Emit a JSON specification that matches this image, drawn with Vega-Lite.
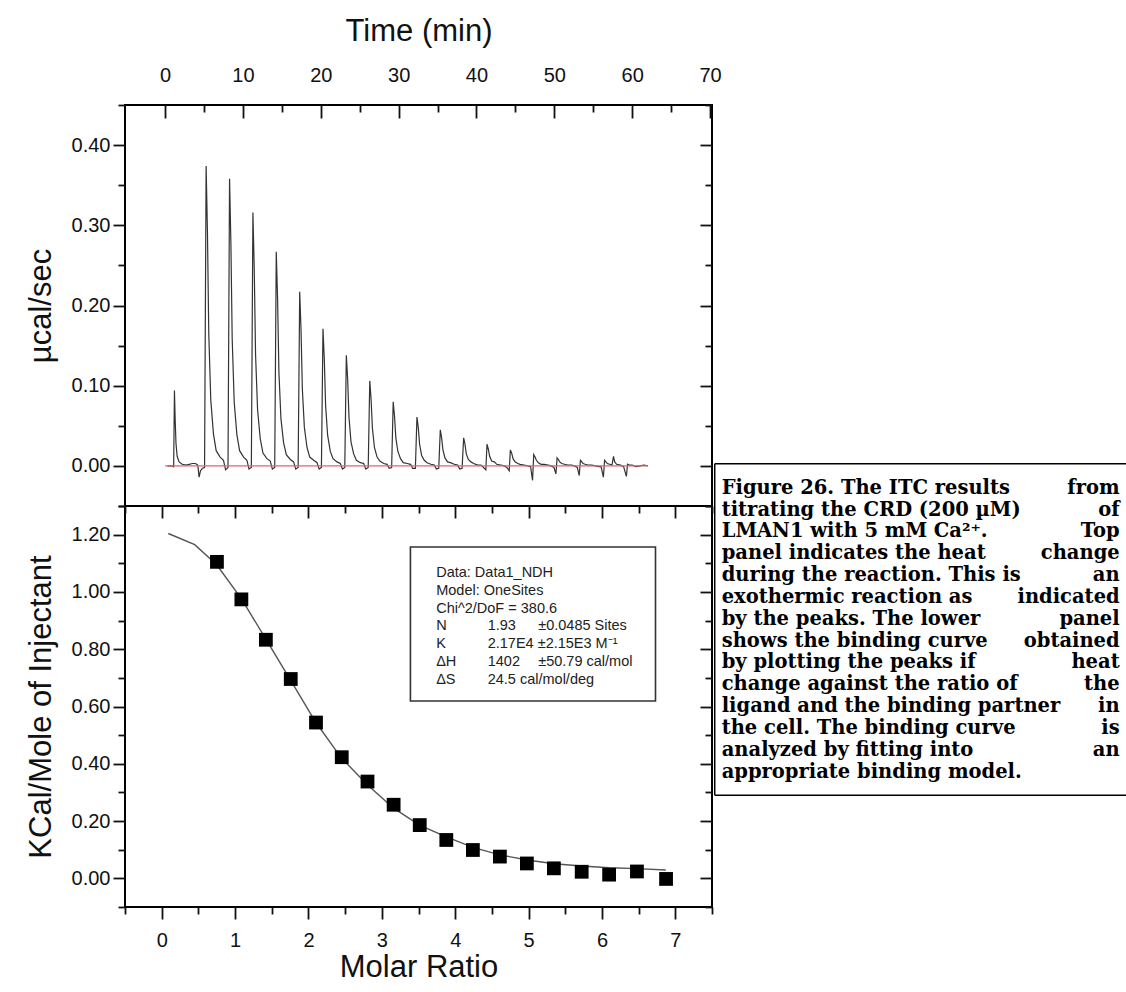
{
  "$schema": "https://vega.github.io/schema/vega-lite/v6.json",
  "background": "white",
  "padding": {"left": 24, "top": 14, "right": 0, "bottom": 0},
  "autosize": {"type": "pad"},
  "spacing": 0,
  "bounds": "flush",
  "config": {
    "view": {"stroke": "black", "strokeWidth": 2},
    "axis": {"domain": false, "grid": false, "labelFont": "Liberation Sans", "titleFont": "Liberation Sans", "labelFontSize": 20, "titleFontSize": 31, "titleFontWeight": "normal", "labelColor": "#111", "titleColor": "#111", "tickColor": "#111", "tickWidth": 1.8, "labelFlush": false, "labelOverlap": false, "labelBound": false}
  },
  "datasets": {
    "thermo": [
      {"s":"trace","t":0.3,"v":0.000},{"s":"trace","t":0.9,"v":0.000},{"s":"trace","t":1.1,"v":-0.001},{"s":"trace","t":1.2,"v":0.094},{"s":"trace","t":1.3,"v":0.056},{"s":"trace","t":1.4,"v":0.028},{"s":"trace","t":1.55,"v":0.012},{"s":"trace","t":1.8,"v":0.005},{"s":"trace","t":2.2,"v":0.002},{"s":"trace","t":2.7,"v":0.001},{"s":"trace","t":3.1,"v":0.002},{"s":"trace","t":3.5,"v":0.003},{"s":"trace","t":3.9,"v":0.003},{"s":"trace","t":4.2,"v":0.001},{"s":"trace","t":4.37,"v":-0.014},{"s":"trace","t":4.55,"v":-0.006},{"s":"trace","t":4.8,"v":-0.003},{"s":"trace","t":5.07,"v":-0.002},
      {"s":"trace","t":5.27,"v":0.374},{"s":"trace","t":5.44,"v":0.292},{"s":"trace","t":5.61,"v":0.165},{"s":"trace","t":5.87,"v":0.082},{"s":"trace","t":6.21,"v":0.040},{"s":"trace","t":6.56,"v":0.019},{"s":"trace","t":7.07,"v":0.011},{"s":"trace","t":7.50,"v":0.007},{"s":"trace","t":7.77,"v":-0.005},{"s":"trace","t":8.08,"v":-0.002},
      {"s":"trace","t":8.28,"v":0.358},{"s":"trace","t":8.45,"v":0.279},{"s":"trace","t":8.62,"v":0.158},{"s":"trace","t":8.88,"v":0.079},{"s":"trace","t":9.22,"v":0.039},{"s":"trace","t":9.57,"v":0.019},{"s":"trace","t":10.08,"v":0.011},{"s":"trace","t":10.51,"v":0.007},{"s":"trace","t":10.78,"v":-0.004},{"s":"trace","t":11.08,"v":-0.002},
      {"s":"trace","t":11.28,"v":0.316},{"s":"trace","t":11.45,"v":0.246},{"s":"trace","t":11.62,"v":0.139},{"s":"trace","t":11.88,"v":0.070},{"s":"trace","t":12.22,"v":0.034},{"s":"trace","t":12.57,"v":0.016},{"s":"trace","t":13.08,"v":0.009},{"s":"trace","t":13.51,"v":0.006},{"s":"trace","t":13.78,"v":-0.004},{"s":"trace","t":14.08,"v":-0.002},
      {"s":"trace","t":14.28,"v":0.267},{"s":"trace","t":14.45,"v":0.208},{"s":"trace","t":14.62,"v":0.117},{"s":"trace","t":14.88,"v":0.059},{"s":"trace","t":15.22,"v":0.029},{"s":"trace","t":15.57,"v":0.014},{"s":"trace","t":16.08,"v":0.008},{"s":"trace","t":16.51,"v":0.005},{"s":"trace","t":16.78,"v":-0.004},{"s":"trace","t":17.09,"v":-0.002},
      {"s":"trace","t":17.29,"v":0.217},{"s":"trace","t":17.46,"v":0.170},{"s":"trace","t":17.63,"v":0.096},{"s":"trace","t":17.89,"v":0.048},{"s":"trace","t":18.23,"v":0.023},{"s":"trace","t":18.58,"v":0.011},{"s":"trace","t":19.09,"v":0.007},{"s":"trace","t":19.52,"v":0.004},{"s":"trace","t":19.79,"v":-0.004},{"s":"trace","t":20.08,"v":-0.002},
      {"s":"trace","t":20.28,"v":0.171},{"s":"trace","t":20.45,"v":0.133},{"s":"trace","t":20.62,"v":0.075},{"s":"trace","t":20.88,"v":0.038},{"s":"trace","t":21.22,"v":0.018},{"s":"trace","t":21.57,"v":0.009},{"s":"trace","t":22.08,"v":0.005},{"s":"trace","t":22.51,"v":0.003},{"s":"trace","t":22.78,"v":-0.004},{"s":"trace","t":23.08,"v":-0.002},
      {"s":"trace","t":23.28,"v":0.138},{"s":"trace","t":23.45,"v":0.108},{"s":"trace","t":23.62,"v":0.061},{"s":"trace","t":23.88,"v":0.030},{"s":"trace","t":24.22,"v":0.015},{"s":"trace","t":24.57,"v":0.007},{"s":"trace","t":25.08,"v":0.004},{"s":"trace","t":25.51,"v":0.003},{"s":"trace","t":25.78,"v":-0.004},{"s":"trace","t":26.09,"v":-0.002},
      {"s":"trace","t":26.29,"v":0.106},{"s":"trace","t":26.46,"v":0.083},{"s":"trace","t":26.63,"v":0.047},{"s":"trace","t":26.89,"v":0.023},{"s":"trace","t":27.23,"v":0.011},{"s":"trace","t":27.58,"v":0.006},{"s":"trace","t":28.09,"v":0.003},{"s":"trace","t":28.52,"v":0.002},{"s":"trace","t":28.79,"v":-0.003},{"s":"trace","t":29.10,"v":-0.002},
      {"s":"trace","t":29.30,"v":0.080},{"s":"trace","t":29.47,"v":0.062},{"s":"trace","t":29.64,"v":0.035},{"s":"trace","t":29.90,"v":0.018},{"s":"trace","t":30.24,"v":0.009},{"s":"trace","t":30.59,"v":0.004},{"s":"trace","t":31.10,"v":0.003},{"s":"trace","t":31.53,"v":0.002},{"s":"trace","t":31.80,"v":-0.003},{"s":"trace","t":32.15,"v":-0.003},
      {"s":"trace","t":32.35,"v":0.061},{"s":"trace","t":32.52,"v":0.048},{"s":"trace","t":32.69,"v":0.027},{"s":"trace","t":32.95,"v":0.013},{"s":"trace","t":33.29,"v":0.007},{"s":"trace","t":33.64,"v":0.004},{"s":"trace","t":34.15,"v":0.002},{"s":"trace","t":34.58,"v":0.001},{"s":"trace","t":34.85,"v":-0.004},{"s":"trace","t":35.15,"v":-0.003},
      {"s":"trace","t":35.35,"v":0.045},{"s":"trace","t":35.52,"v":0.035},{"s":"trace","t":35.69,"v":0.020},{"s":"trace","t":35.95,"v":0.010},{"s":"trace","t":36.29,"v":0.005},{"s":"trace","t":36.64,"v":0.004},{"s":"trace","t":37.15,"v":0.002},{"s":"trace","t":37.58,"v":0.001},{"s":"trace","t":37.85,"v":-0.004},{"s":"trace","t":38.15,"v":-0.003},
      {"s":"trace","t":38.35,"v":0.035},{"s":"trace","t":38.52,"v":0.027},{"s":"trace","t":38.69,"v":0.015},{"s":"trace","t":38.95,"v":0.008},{"s":"trace","t":39.29,"v":0.005},{"s":"trace","t":39.64,"v":0.003},{"s":"trace","t":40.15,"v":0.001},{"s":"trace","t":40.58,"v":0.001},{"s":"trace","t":40.9,"v":-0.002},{"s":"trace","t":41.2,"v":-0.005},
      {"s":"trace","t":41.35,"v":0.027},{"s":"trace","t":41.52,"v":0.021},{"s":"trace","t":41.69,"v":0.012},{"s":"trace","t":41.95,"v":0.006},{"s":"trace","t":42.3,"v":0.005},{"s":"trace","t":42.6,"v":0.002},{"s":"trace","t":43.1,"v":0.001},{"s":"trace","t":43.6,"v":0.000},{"s":"trace","t":43.9,"v":-0.002},{"s":"trace","t":44.2,"v":-0.006},
      {"s":"trace","t":44.35,"v":0.020},{"s":"trace","t":44.52,"v":0.016},{"s":"trace","t":44.69,"v":0.009},{"s":"trace","t":44.95,"v":0.005},{"s":"trace","t":45.3,"v":0.003},{"s":"trace","t":45.6,"v":0.002},{"s":"trace","t":46.1,"v":0.001},{"s":"trace","t":46.6,"v":0.000},{"s":"trace","t":46.95,"v":-0.001},{"s":"trace","t":47.2,"v":-0.018},
      {"s":"trace","t":47.35,"v":0.014},{"s":"trace","t":47.52,"v":0.011},{"s":"trace","t":47.69,"v":0.007},{"s":"trace","t":47.95,"v":0.004},{"s":"trace","t":48.3,"v":0.002},{"s":"trace","t":48.7,"v":0.002},{"s":"trace","t":49.2,"v":0.001},{"s":"trace","t":49.6,"v":0.000},{"s":"trace","t":49.95,"v":-0.002},{"s":"trace","t":50.2,"v":-0.010},
      {"s":"trace","t":50.35,"v":0.010},{"s":"trace","t":50.52,"v":0.008},{"s":"trace","t":50.69,"v":0.005},{"s":"trace","t":50.95,"v":0.003},{"s":"trace","t":51.3,"v":0.002},{"s":"trace","t":51.7,"v":0.001},{"s":"trace","t":52.2,"v":0.001},{"s":"trace","t":52.6,"v":0.000},{"s":"trace","t":52.95,"v":-0.002},{"s":"trace","t":53.2,"v":-0.012},
      {"s":"trace","t":53.35,"v":0.007},{"s":"trace","t":53.52,"v":0.005},{"s":"trace","t":53.69,"v":0.003},{"s":"trace","t":53.95,"v":0.002},{"s":"trace","t":54.3,"v":0.001},{"s":"trace","t":54.8,"v":0.001},{"s":"trace","t":55.3,"v":0.000},{"s":"trace","t":55.7,"v":-0.001},{"s":"trace","t":56.0,"v":-0.001},{"s":"trace","t":56.3,"v":-0.014},
      {"s":"trace","t":56.45,"v":0.007},{"s":"trace","t":56.62,"v":0.005},{"s":"trace","t":56.8,"v":0.003},{"s":"trace","t":57.1,"v":0.002},{"s":"trace","t":57.4,"v":0.001},{"s":"trace","t":57.6,"v":0.012},{"s":"trace","t":57.75,"v":0.005},{"s":"trace","t":58.0,"v":0.002},{"s":"trace","t":58.5,"v":0.001},{"s":"trace","t":58.9,"v":-0.001},{"s":"trace","t":59.25,"v":-0.013},
      {"s":"trace","t":59.4,"v":0.002},{"s":"trace","t":59.6,"v":0.001},{"s":"trace","t":60.0,"v":0.001},{"s":"trace","t":60.5,"v":-0.001},{"s":"trace","t":61.0,"v":0.000},{"s":"trace","t":61.5,"v":0.001},{"s":"trace","t":62.0,"v":0.000},
      {"s":"base","t":0,"v":0},{"s":"base","t":62,"v":0}
    ],
    "itc": [
      {"s":"fit","m":0.09,"k":1.204},{"s":"fit","m":0.45,"k":1.165},{"s":"fit","m":0.75,"k":1.095},{"s":"fit","m":1.09,"k":0.975},{"s":"fit","m":1.42,"k":0.835},{"s":"fit","m":1.76,"k":0.69},{"s":"fit","m":2.10,"k":0.545},{"s":"fit","m":2.45,"k":0.42},{"s":"fit","m":2.81,"k":0.325},{"s":"fit","m":3.16,"k":0.245},{"s":"fit","m":3.52,"k":0.185},{"s":"fit","m":3.88,"k":0.145},{"s":"fit","m":4.24,"k":0.108},{"s":"fit","m":4.61,"k":0.082},{"s":"fit","m":4.98,"k":0.064},{"s":"fit","m":5.35,"k":0.051},{"s":"fit","m":5.72,"k":0.043},{"s":"fit","m":6.10,"k":0.037},{"s":"fit","m":6.48,"k":0.034},{"s":"fit","m":6.87,"k":0.029},
      {"s":"obs","m":0.753,"k":1.105},{"s":"obs","m":1.086,"k":0.974},{"s":"obs","m":1.420,"k":0.833},{"s":"obs","m":1.759,"k":0.696},{"s":"obs","m":2.103,"k":0.544},{"s":"obs","m":2.454,"k":0.423},{"s":"obs","m":2.805,"k":0.338},{"s":"obs","m":3.161,"k":0.257},{"s":"obs","m":3.517,"k":0.186},{"s":"obs","m":3.879,"k":0.134},{"s":"obs","m":4.241,"k":0.099},{"s":"obs","m":4.609,"k":0.076},{"s":"obs","m":4.977,"k":0.052},{"s":"obs","m":5.345,"k":0.035},{"s":"obs","m":5.724,"k":0.023},{"s":"obs","m":6.098,"k":0.013},{"s":"obs","m":6.477,"k":0.024},{"s":"obs","m":6.874,"k":-0.002}
    ]
  },
  "vconcat": [
    {
      "width": 587,
      "height": 401,
      "data": {"name": "thermo"},
      "layer": [
        {
          "transform": [{"filter": "datum.s === 'trace'"}],
          "mark": {"type": "line", "color": "#333333", "strokeWidth": 1.2},
          "encoding": {
            "x": {"field": "t", "type": "quantitative", "scale": {"domain": [-5.15, 70.25], "nice": false, "zero": false},
              "axis": {"orient": "top", "title": "Time (min)", "values": [0,5,10,15,20,25,30,35,40,45,50,55,60,65,70], "labelExpr": "datum.value % 10 === 0 ? format(datum.value, 'd') : ''", "tickSize": {"condition": {"test": "datum.value % 10 === 0", "value": -13}, "value": -7}, "labelPadding": 33, "titlePadding": 12}},
            "y": {"field": "v", "type": "quantitative", "scale": {"domain": [-0.05, 0.45], "nice": false, "zero": false},
              "axis": {"orient": "left", "title": "µcal/sec", "values": [-0.05,0,0.05,0.1,0.15,0.2,0.25,0.3,0.35,0.4,0.45], "labelExpr": "(abs(datum.value*10-round(datum.value*10))<0.001 && datum.value>-0.01 && datum.value<0.41) ? format(datum.value,'.2f') : ''", "tickSize": {"condition": {"test": "abs(datum.value*10-round(datum.value*10))<0.001", "value": 12}, "value": 7}, "labelPadding": 3, "titlePadding": 14}}
          }
        },
        {
          "transform": [{"filter": "datum.s === 'base'"}],
          "mark": {"type": "line", "color": "#e06666", "strokeWidth": 1.3},
          "encoding": {
            "x": {"field": "t", "type": "quantitative", "scale": {"domain": [-5.15, 70.25], "nice": false, "zero": false},
              "axis": {"orient": "top", "title": "Time (min)", "values": [0,5,10,15,20,25,30,35,40,45,50,55,60,65,70], "labelExpr": "datum.value % 10 === 0 ? format(datum.value, 'd') : ''", "tickSize": {"condition": {"test": "datum.value % 10 === 0", "value": -13}, "value": -7}, "labelPadding": 33, "titlePadding": 12}},
            "y": {"field": "v", "type": "quantitative", "scale": {"domain": [-0.05, 0.45], "nice": false, "zero": false},
              "axis": {"orient": "right", "title": null, "labels": false, "values": [-0.05,0,0.05,0.1,0.15,0.2,0.25,0.3,0.35,0.4,0.45], "tickSize": {"condition": {"test": "abs(datum.value*10-round(datum.value*10))<0.001", "value": -12}, "value": -7}}}
          }
        }
      ],
      "resolve": {"axis": {"y": "independent"}}
    },
    {
      "width": 587,
      "height": 401,
      "data": {"name": "itc"},
      "layer": [
        {
          "transform": [{"filter": "datum.s === 'fit'"}],
          "mark": {"type": "line", "color": "#555555", "strokeWidth": 1.4},
          "encoding": {
            "x": {"field": "m", "type": "quantitative", "scale": {"domain": [-0.5, 7.5], "nice": false, "zero": false},
              "axis": {"orient": "bottom", "title": "Molar Ratio", "values": [-0.5,0,0.5,1,1.5,2,2.5,3,3.5,4,4.5,5,5.5,6,6.5,7,7.5], "labelExpr": "datum.value % 1 === 0 ? format(datum.value, 'd') : ''", "tickSize": {"condition": {"test": "datum.value % 1 === 0", "value": 12}, "value": 7}, "labelPadding": 11, "titlePadding": 2}},
            "y": {"field": "k", "type": "quantitative", "scale": {"domain": [-0.1, 1.3], "nice": false, "zero": false},
              "axis": {"orient": "left", "title": "KCal/Mole of Injectant", "values": [-0.1,0,0.1,0.2,0.3,0.4,0.5,0.6,0.7,0.8,0.9,1,1.1,1.2,1.3], "labelExpr": "(abs(datum.value*5-round(datum.value*5))<0.001 && datum.value>-0.01 && datum.value<1.21) ? format(datum.value,'.2f') : ''", "tickSize": {"condition": {"test": "abs(datum.value*5-round(datum.value*5))<0.001", "value": 12}, "value": 7}, "labelPadding": 3, "titlePadding": 14}}
          }
        },
        {
          "transform": [{"filter": "datum.s === 'obs'"}],
          "mark": {"type": "point", "shape": "square", "filled": true, "color": "black", "size": 190, "opacity": 1},
          "encoding": {
            "x": {"field": "m", "type": "quantitative", "scale": {"domain": [-0.5, 7.5], "nice": false, "zero": false},
              "axis": {"orient": "top", "title": null, "labels": false, "values": [-0.5,0,0.5,1,1.5,2,2.5,3,3.5,4,4.5,5,5.5,6,6.5,7,7.5], "tickSize": {"condition": {"test": "datum.value % 1 === 0", "value": -12}, "value": -7}}},
            "y": {"field": "k", "type": "quantitative", "scale": {"domain": [-0.1, 1.3], "nice": false, "zero": false},
              "axis": {"orient": "right", "title": null, "labels": false, "values": [-0.1,0,0.1,0.2,0.3,0.4,0.5,0.6,0.7,0.8,0.9,1,1.1,1.2,1.3], "tickSize": {"condition": {"test": "abs(datum.value*5-round(datum.value*5))<0.001", "value": -12}, "value": -7}}}
          }
        },
        {
          "data": {"values": [{}]},
          "mark": {"type": "rect", "fill": "white", "fillOpacity": 0, "stroke": "#333333", "strokeWidth": 1.6},
          "encoding": {
            "x": {"datum": 3.39, "type": "quantitative", "scale": {"domain": [-0.5, 7.5], "nice": false, "zero": false}, "axis": null},
            "x2": {"datum": 6.73},
            "y": {"datum": 1.157, "type": "quantitative", "scale": {"domain": [-0.1, 1.3], "nice": false, "zero": false}, "axis": null},
            "y2": {"datum": 0.619}
          }
        },
        {
          "data": {"values": [{}]},
          "mark": {"type": "text", "align": "left", "baseline": "alphabetic", "font": "Liberation Sans", "fontSize": 14.5, "lineHeight": 17.8, "color": "#222222",
            "text": ["Data: Data1_NDH", "Model: OneSites", "Chi^2/DoF = 380.6", "N", "K", "ΔH", "ΔS"]},
          "encoding": {
            "x": {"datum": 3.741, "type": "quantitative", "scale": {"domain": [-0.5, 7.5], "nice": false, "zero": false}, "axis": null},
            "y": {"datum": 1.052, "type": "quantitative", "scale": {"domain": [-0.1, 1.3], "nice": false, "zero": false}, "axis": null}
          }
        },
        {
          "data": {"values": [{}]},
          "mark": {"type": "text", "align": "left", "baseline": "alphabetic", "font": "Liberation Sans", "fontSize": 14.5, "lineHeight": 17.8, "color": "#222222",
            "text": ["1.93", "2.17E4 ±2.15E3 M⁻¹", "1402", "24.5 cal/mol/deg"]},
          "encoding": {
            "x": {"datum": 4.443, "type": "quantitative", "scale": {"domain": [-0.5, 7.5], "nice": false, "zero": false}, "axis": null},
            "y": {"datum": 0.8659, "type": "quantitative", "scale": {"domain": [-0.1, 1.3], "nice": false, "zero": false}, "axis": null}
          }
        },
        {
          "data": {"values": [{}]},
          "mark": {"type": "text", "align": "left", "baseline": "alphabetic", "font": "Liberation Sans", "fontSize": 14.5, "color": "#222222", "text": "±0.0485 Sites"},
          "encoding": {
            "x": {"datum": 5.132, "type": "quantitative", "scale": {"domain": [-0.5, 7.5], "nice": false, "zero": false}, "axis": null},
            "y": {"datum": 0.8659, "type": "quantitative", "scale": {"domain": [-0.1, 1.3], "nice": false, "zero": false}, "axis": null}
          }
        },
        {
          "data": {"values": [{}]},
          "mark": {"type": "text", "align": "left", "baseline": "alphabetic", "font": "Liberation Sans", "fontSize": 14.5, "color": "#222222", "text": "±50.79 cal/mol"},
          "encoding": {
            "x": {"datum": 5.132, "type": "quantitative", "scale": {"domain": [-0.5, 7.5], "nice": false, "zero": false}, "axis": null},
            "y": {"datum": 0.7418, "type": "quantitative", "scale": {"domain": [-0.1, 1.3], "nice": false, "zero": false}, "axis": null}
          }
        },
        {
          "data": {"values": [{}]},
          "mark": {"type": "rule", "color": "black", "strokeWidth": 1.5, "clip": false},
          "encoding": {
            "x": {"datum": 7.537, "type": "quantitative", "scale": {"domain": [-0.5, 7.5], "nice": false, "zero": false}, "axis": null},
            "x2": {"datum": 13.15},
            "y": {"datum": 1.4475, "type": "quantitative", "scale": {"domain": [-0.1, 1.3], "nice": false, "zero": false}, "axis": null}
          }
        },
        {
          "data": {"values": [{}]},
          "mark": {"type": "rule", "color": "black", "strokeWidth": 1.5, "clip": false},
          "encoding": {
            "x": {"datum": 7.537, "type": "quantitative", "scale": {"domain": [-0.5, 7.5], "nice": false, "zero": false}, "axis": null},
            "x2": {"datum": 13.15},
            "y": {"datum": 0.2903, "type": "quantitative", "scale": {"domain": [-0.1, 1.3], "nice": false, "zero": false}, "axis": null}
          }
        },
        {
          "data": {"values": [{}]},
          "mark": {"type": "rule", "color": "black", "strokeWidth": 1.5, "clip": false},
          "encoding": {
            "x": {"datum": 7.537, "type": "quantitative", "scale": {"domain": [-0.5, 7.5], "nice": false, "zero": false}, "axis": null},
            "y": {"datum": 1.4475, "type": "quantitative", "scale": {"domain": [-0.1, 1.3], "nice": false, "zero": false}, "axis": null},
            "y2": {"datum": 0.2903}
          }
        },
        {
          "data": {"values": [{}]},
          "mark": {"type": "text", "align": "left", "baseline": "alphabetic", "font": "DejaVu Serif", "fontWeight": "bold", "fontSize": 19.5, "lineHeight": 21.85, "color": "black",
            "text": ["Figure 26. The ITC results", "titrating the CRD (200 µM)", "LMAN1 with 5 mM Ca²⁺.", "panel indicates the heat", "during the reaction. This is", "exothermic reaction as", "by the peaks. The lower", "shows the binding curve", "by plotting the peaks if", "change against the ratio of", "ligand and the binding partner", "the cell. The binding curve", "analyzed by fitting into", "appropriate binding model."]},
          "encoding": {
            "x": {"datum": 7.632, "type": "quantitative", "scale": {"domain": [-0.5, 7.5], "nice": false, "zero": false}, "axis": null},
            "y": {"datum": 1.343, "type": "quantitative", "scale": {"domain": [-0.1, 1.3], "nice": false, "zero": false}, "axis": null}
          }
        },
        {
          "data": {"values": [{}]},
          "mark": {"type": "text", "align": "right", "baseline": "alphabetic", "font": "DejaVu Serif", "fontWeight": "bold", "fontSize": 19.5, "lineHeight": 21.85, "color": "black",
            "text": ["from", "of", "Top", "change", "an", "indicated", "panel", "obtained", "heat", "the", "in", "is", "an"]},
          "encoding": {
            "x": {"datum": 13.056, "type": "quantitative", "scale": {"domain": [-0.5, 7.5], "nice": false, "zero": false}, "axis": null},
            "y": {"datum": 1.343, "type": "quantitative", "scale": {"domain": [-0.1, 1.3], "nice": false, "zero": false}, "axis": null}
          }
        }
      ],
      "resolve": {"axis": {"x": "independent", "y": "independent"}}
    }
  ]
}
